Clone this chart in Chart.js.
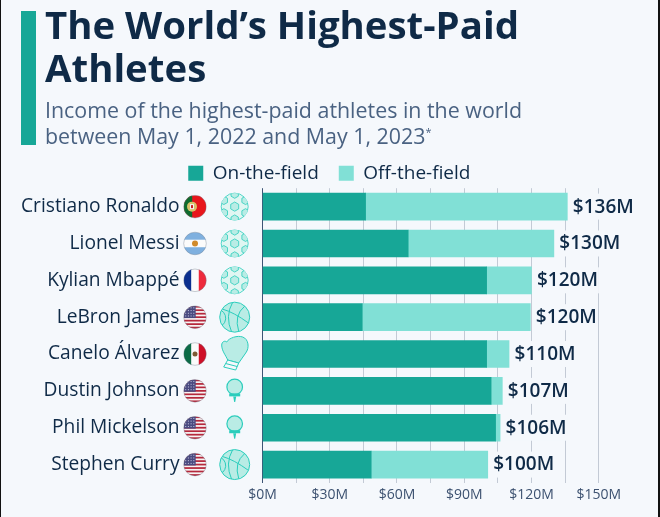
<!DOCTYPE html>
<html>
<head>
<meta charset="utf-8">
<title>The World's Highest-Paid Athletes</title>
<script src="https://cdn.jsdelivr.net/npm/chart.js@4"></script>
<style>
html, body { margin: 0; padding: 0; background: #f5f8fc; }
#page { position: relative; width: 660px; height: 517px; overflow: hidden; background: #f5f8fc; font-family: "Open Sans", sans-serif; }
#page:before { content: ""; position: absolute; left: 0; top: 0; bottom: 0; width: 1px; background: #111; }
#page:after { content: ""; position: absolute; right: 0; top: 0; bottom: 0; width: 2px; background: #111; }
#bar { position: absolute; left: 21px; top: 11px; width: 15px; height: 134px; background: #17a797; }
#title { position: absolute; left: 45px; top: 3px; margin: 0; font-size: 38.4px; line-height: 43px; font-weight: 700; color: #0f2a47; white-space: nowrap; }
#sub { position: absolute; left: 45px; top: 97px; margin: 0; font-size: 21.4px; line-height: 26px; font-weight: 400; color: #4a6282; white-space: nowrap; }
#sub sup { font-size: 11px; line-height: 0; }
#wrap { position: absolute; left: 0; top: 0; width: 660px; height: 517px; }
</style>
</head>
<body>
<div id="page">
  <div id="wrap"><canvas id="chart"></canvas></div>
  <div id="bar"></div>
  <h1 id="title">The World’s Highest-Paid<br>Athletes</h1>
  <p id="sub">Income of the highest-paid athletes in the world<br>between May 1, 2022 and May 1, 2023<sup>*</sup></p>
</div>
<script>
const athletes = ["Cristiano Ronaldo", "Lionel Messi", "Kylian Mbappé", "LeBron James", "Canelo Álvarez", "Dustin Johnson", "Phil Mickelson", "Stephen Curry"]
const onField = [46, 65, 100, 44.5, 100, 102, 104, 48.5]
const offField = [90, 65, 20, 75, 10, 5, 2, 52]
const totalLabels = ["$136M", "$130M", "$120M", "$120M", "$110M", "$107M", "$106M", "$100M"]
const countries = ["pt", "ar", "fr", "us", "mx", "us", "us", "us"]
const sports = ["football", "football", "football", "basketball", "boxing", "golf", "golf", "basketball"]

const INK = "#0f2a47"
const BG = "#f5f8fc"
const ICON_FILL = "#b9ece5"
const ICON_LINE = "#2bcdbc"

function stripes(ctx, x, y, r, colors, vertical) {
    const n = colors.length
    colors.forEach((c, i) => {
        ctx.fillStyle = c
        if (vertical) ctx.fillRect(x - r + i * 2 * r / n, y - r, 2 * r / n + 0.5, 2 * r)
        else ctx.fillRect(x - r, y - r + i * 2 * r / n, 2 * r, 2 * r / n + 0.5)
    })
}

function drawFlag(ctx, code, x, y) {
    const r = 11.3
    ctx.save()
    ctx.beginPath()
    ctx.arc(x, y, r, 0, Math.PI * 2)
    ctx.clip()
    if (code === "pt") {
        ctx.fillStyle = "#e8161c"
        ctx.fillRect(x - r, y - r, 2 * r, 2 * r)
        ctx.fillStyle = "#0f6b2e"
        ctx.fillRect(x - r, y - r, 8.5, 2 * r)
        ctx.fillStyle = "#d8c26a"
        ctx.beginPath(); ctx.arc(x - 3, y, 5, 0, Math.PI * 2); ctx.fill()
        ctx.fillStyle = "#f4f4f4"
        ctx.fillRect(x - 5, y - 2.5, 4, 5)
        ctx.fillStyle = "#c22"
        ctx.fillRect(x - 4, y - 1.5, 2, 3)
    } else if (code === "ar") {
        stripes(ctx, x, y, r, ["#7fb0df", "#fbfbfb", "#7fb0df"], false)
        ctx.fillStyle = "#d08a2a"
        ctx.beginPath(); ctx.arc(x, y, 3, 0, Math.PI * 2); ctx.fill()
    } else if (code === "fr") {
        stripes(ctx, x, y, r, ["#0b2f8f", "#fbfbfb", "#ee2a3c"], true)
    } else if (code === "mx") {
        stripes(ctx, x, y, r, ["#0c6b46", "#fbfbfb", "#cf1028"], true)
        ctx.fillStyle = "#7d5a34"
        ctx.beginPath(); ctx.arc(x, y, 2.5, 0, Math.PI * 2); ctx.fill()
    } else {
        const cols = []
        for (let i = 0; i < 13; i++) cols.push(i % 2 ? "#f7f3f3" : "#b5283c")
        stripes(ctx, x, y, r, cols, false)
        ctx.fillStyle = "#4a4a80"
        ctx.fillRect(x - r, y - r, 12, 12.2)
        ctx.fillStyle = "#c9c9e0"
        for (let i = 0; i < 4; i++) {
            for (let j = 0; j < 4; j++) ctx.fillRect(x - r + 1.5 + j * 2.7, y - r + 1.5 + i * 2.7, 1, 1)
        }
    }
    ctx.restore()
    ctx.strokeStyle = "rgba(110,120,135,0.45)"
    ctx.lineWidth = 0.8
    ctx.beginPath()
    ctx.arc(x, y, r, 0, Math.PI * 2)
    ctx.stroke()
}

function hexagon(ctx, x, y, r) {
    ctx.beginPath()
    for (let i = 0; i < 6; i++) {
        const a = Math.PI / 6 + i * Math.PI / 3
        ctx.lineTo(x + r * Math.cos(a), y + r * Math.sin(a))
    }
    ctx.closePath()
}

function drawFootball(ctx, x, y) {
    const r = 13.5
    ctx.fillStyle = "#e0f6f2"
    ctx.strokeStyle = ICON_LINE
    ctx.lineWidth = 0.8
    ctx.beginPath(); ctx.arc(x, y, r, 0, Math.PI * 2); ctx.fill(); ctx.stroke()
    ctx.save()
    ctx.beginPath(); ctx.arc(x, y, r, 0, Math.PI * 2); ctx.clip()
    ctx.fillStyle = ICON_FILL
    hexagon(ctx, x, y, 4.6); ctx.fill(); ctx.stroke()
    for (let i = 0; i < 6; i++) {
        const a = -Math.PI / 2 + i * Math.PI / 3
        hexagon(ctx, x + 12.5 * Math.cos(a), y + 12.5 * Math.sin(a), 4.2)
        ctx.fill(); ctx.stroke()
    }
    ctx.restore()
}

function drawBasketball(ctx, x, y) {
    const r = 15
    ctx.fillStyle = ICON_FILL
    ctx.strokeStyle = ICON_LINE
    ctx.lineWidth = 1
    ctx.beginPath(); ctx.arc(x, y, r, 0, Math.PI * 2); ctx.fill(); ctx.stroke()
    ctx.save()
    ctx.beginPath(); ctx.arc(x, y, r, 0, Math.PI * 2); ctx.clip()
    ctx.beginPath(); ctx.moveTo(x - 12, y - 8); ctx.quadraticCurveTo(x - 1, y - 5, x + 14, y + 6); ctx.stroke()
    ctx.beginPath(); ctx.moveTo(x - 2, y - 15); ctx.quadraticCurveTo(x - 10, y - 1, x - 3, y + 15); ctx.stroke()
    ctx.beginPath(); ctx.moveTo(x + 10, y - 11); ctx.quadraticCurveTo(x - 1, y - 2, x + 4, y + 14); ctx.stroke()
    ctx.beginPath(); ctx.arc(x - 18, y + 1, 9, -1.1, 1.1); ctx.stroke()
    ctx.restore()
}

function drawGlove(ctx, x, y) {
    ctx.fillStyle = ICON_FILL
    ctx.strokeStyle = ICON_LINE
    ctx.lineWidth = 1
    ctx.beginPath()
    ctx.moveTo(x - 7, y + 6)
    ctx.bezierCurveTo(x - 9, y + 1, x - 13, y - 3, x - 13, y - 9)
    ctx.bezierCurveTo(x - 13, y - 12, x - 10, y - 14, x - 8, y - 12)
    ctx.bezierCurveTo(x - 6, y - 16, x + 3, y - 19, x + 8, y - 17)
    ctx.bezierCurveTo(x + 14, y - 15, x + 15, y - 6, x + 11, y - 1)
    ctx.bezierCurveTo(x + 9, y + 2, x + 6, y + 6, x + 4, y + 9)
    ctx.closePath()
    ctx.fill(); ctx.stroke()
    ctx.beginPath()
    ctx.moveTo(x - 7, y + 6); ctx.lineTo(x + 4, y + 9); ctx.lineTo(x + 1, y + 16); ctx.lineTo(x - 11, y + 13)
    ctx.closePath()
    ctx.fillStyle = BG
    ctx.fill(); ctx.stroke()
    ctx.beginPath(); ctx.moveTo(x - 9, y + 9.5); ctx.lineTo(x + 2.5, y + 12.5); ctx.stroke()
}

function drawTee(ctx, x, y) {
    ctx.fillStyle = ICON_FILL
    ctx.strokeStyle = ICON_LINE
    ctx.lineWidth = 1.2
    ctx.beginPath(); ctx.arc(x, y - 4, 7.8, 0, Math.PI * 2); ctx.fill(); ctx.stroke()
    ctx.fillStyle = ICON_LINE
    ctx.fillRect(x - 5.5, y + 2.5, 11, 3)
    ctx.beginPath()
    ctx.moveTo(x - 1.5, y + 5.5); ctx.lineTo(x + 1.5, y + 5.5); ctx.lineTo(x + 0.5, y + 11); ctx.lineTo(x - 0.5, y + 11)
    ctx.closePath()
    ctx.fill()
}

// legend is centred on the padded width, the reference has it on the page centre
const moveLegend = {
    id: "moveLegend",
    afterLayout(chart) {
        const legend = chart.legend
        legend.left += 30
        legend.right += 30
        legend.top += 4.5
        legend.bottom += 4.5
    }
}

const rowDecor = {
    id: "rowDecor",
    afterDraw(chart) {
        const ctx = chart.ctx
        const yScale = chart.scales.y
        athletes.forEach((name, i) => {
            const y = yScale.getPixelForTick(i)
            drawFlag(ctx, countries[i], 195, y)
            if (sports[i] === "football") drawFootball(ctx, 234.7, y)
            if (sports[i] === "basketball") drawBasketball(ctx, 234.7, y)
            if (sports[i] === "boxing") drawGlove(ctx, 234.7, y)
            if (sports[i] === "golf") drawTee(ctx, 234.7, y)
        })
    }
}

// total at the end of each bar, on a patch that hides the grid lines
const totals = {
    id: "totals",
    afterDatasetsDraw(chart) {
        const ctx = chart.ctx
        ctx.save()
        ctx.font = "600 19px 'Open Sans'"
        ctx.textBaseline = "middle"
        totalLabels.forEach((label, i) => {
            const x = chart.scales.x.getPixelForValue(onField[i] + offField[i]) + 5.5
            const y = chart.scales.y.getPixelForTick(i)
            const w = ctx.measureText(label).width
            ctx.fillStyle = BG
            ctx.fillRect(x - 1, y - 13, w + 2, 26)
            ctx.fillStyle = INK
            ctx.fillText(label, x, y + 0.5)
        })
        ctx.restore()
    }
}

new Chart(document.getElementById("chart"), {
    type: "bar",
    data: {
        labels: athletes,
        datasets: [
            { label: "On-the-field", data: onField, backgroundColor: "#17a797", barThickness: 27 },
            { label: "Off-the-field", data: offField, backgroundColor: "#81e0d6", barThickness: 27 }
        ]
    },
    plugins: [moveLegend, rowDecor, totals],
    options: {
        indexAxis: "y",
        responsive: true,
        maintainAspectRatio: false,
        animation: false,
        layout: { padding: { top: 139.2, right: 61.3 } },
        plugins: {
            tooltip: { enabled: false },
            legend: {
                position: "top",
                labels: {
                    boxWidth: 15,
                    boxHeight: 15,
                    padding: 20,
                    color: INK,
                    font: { family: "'Open Sans'", size: 19 }
                }
            }
        },
        scales: {
            x: {
                stacked: true,
                min: 0,
                max: 150,
                afterFit(scale) { scale.height = 34 },
                border: { display: false },
                grid: {
                    drawTicks: false,
                    color(c) { return c.tick && c.tick.value === 0 ? "#3d5575" : "#c3cad5" }
                },
                ticks: {
                    stepSize: 15,
                    autoSkip: false,
                    maxRotation: 0,
                    padding: 4,
                    color: "#3c5170",
                    font: { family: "'Open Sans'", size: 14 },
                    callback(v) { return v % 30 === 0 ? "$" + v + "M" : "" }
                }
            },
            y: {
                stacked: true,
                afterFit(scale) {
                    scale.width = 262.5
                    // tick padding would otherwise be added above and below the axis too
                    scale.paddingTop = 0
                    scale.paddingBottom = 0
                },
                border: { display: false },
                grid: { display: false, drawTicks: false },
                ticks: {
                    padding: 83,
                    color: INK,
                    font: { family: "'Open Sans'", size: 19.2 }
                }
            }
        }
    }
})
</script>
</body>
</html>
